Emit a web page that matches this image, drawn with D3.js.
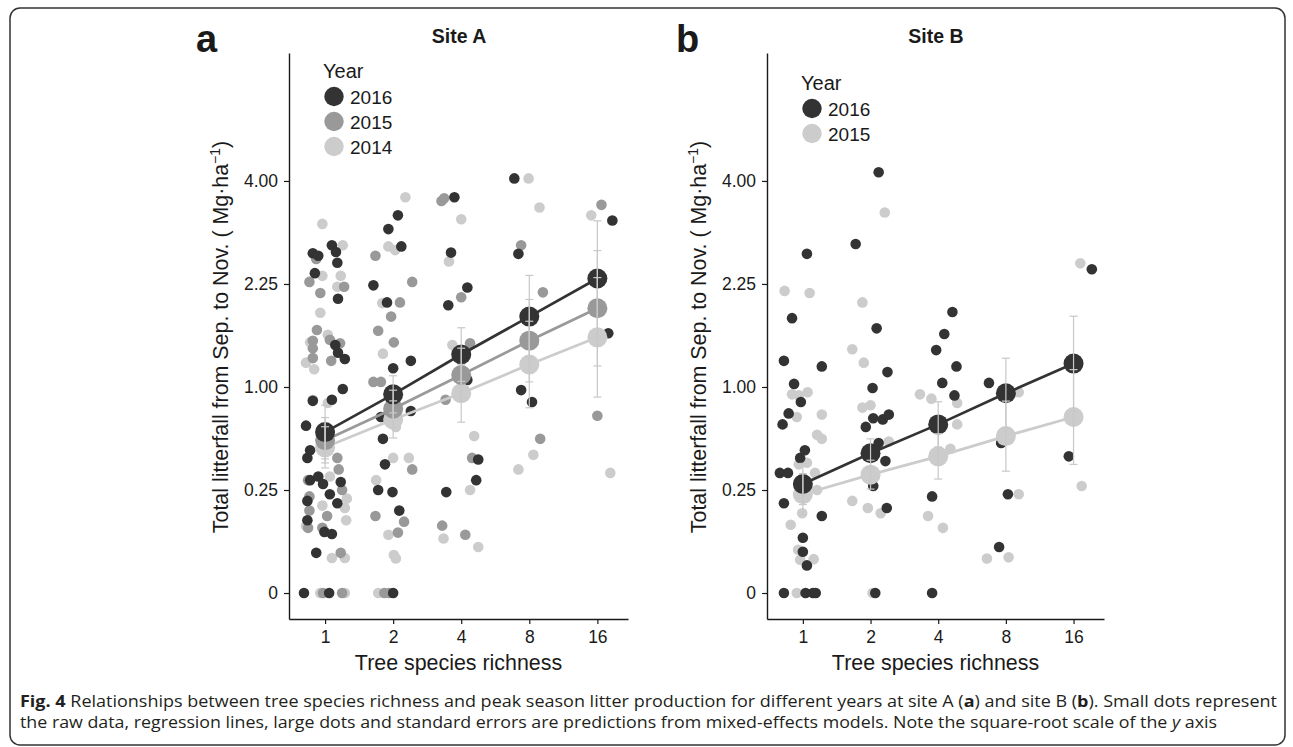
<!DOCTYPE html>
<html>
<head>
<meta charset="utf-8">
<script src="https://cdn.jsdelivr.net/npm/d3@7"></script>
<style>
body { margin: 0; background: #fff; }
svg text { font-family: "Liberation Sans", Arial, sans-serif; fill: #1a1a1a; }
</style>
</head>
<body>
<div class="chart"></div>
<script>
'use strict';
var richness = [1, 2, 4, 8, 16];
var yTicks = [0, 0.25, 1, 2.25, 4];
var yearsA = ['2016', '2015', '2014'];
var yearsB = ['2016', '2015'];

// raw plot values: [richness, jitter (log2 units), litterfall Mg/ha]
var rawA2016 = [[1,-0.18,2.72],[1,-0.10,2.68],[1,0.10,2.85],[1,0.16,2.74],[1,0.18,2.57],[1,-0.15,2.41],[1,0.19,2.04],[1,0.15,1.45],[1,0.19,1.36],[1,0.29,1.29],[1,0.26,0.98],[1,-0.18,0.87],[1,0.10,0.88],[1,-0.28,0.66],[1,-0.22,0.48],[1,-0.26,0.43],[1,-0.22,0.30],[1,-0.10,0.32],[1,-0.03,0.28],[1,0.23,0.29],[1,0.07,0.23],[1,-0.26,0.20],[1,0.18,0.19],[1,-0.26,0.125],[1,-0.01,0.088],[1,0.10,0.082],[1,-0.13,0.038],[1,-0.31,0],[1,0.06,0],
  [2,0.07,3.36],[2,-0.07,3.12],[2,0.12,2.83],[2,-0.29,2.23],[2,-0.09,1.99],[2,0,1.19],[2,0.26,1.27],[2,-0.18,0.73],[2,0.26,0.78],[2,-0.15,0.56],[2,-0.12,0.39],[2,-0.22,0.25],[2,-0.01,0.24],[2,0.09,0.16],[2,0,0],
  [4,-0.10,3.69],[4,-0.15,2.73],[4,0.09,2.20],[4,-0.19,1.95],[4,0.09,1.07],[4,0.25,0.42],[4,0.22,0.30],[4,-0.22,0.24],
  [8,-0.22,4.05],[8,-0.16,2.71],[8,-0.12,0.97],[8,0.04,0.86],
  [16,0.22,3.27],[16,0.16,1.59]];
var rawA2015 = [[1,-0.13,2.63],[1,-0.23,2.28],[1,0.28,2.21],[1,-0.07,2.12],[1,-0.12,1.63],[1,-0.18,1.50],[1,0.07,1.51],[1,0.22,1.47],[1,-0.18,1.41],[1,-0.18,1.30],[1,0.09,1.27],[1,0.18,0.43],[1,0.20,0.36],[1,-0.25,0.30],[1,-0.23,0.22],[1,0.25,0.25],[1,0.03,0.14],[1,-0.23,0.16],[1,-0.25,0.10],[1,-0.04,0.10],[1,0.23,0.038],[1,-0.03,0],[1,0.25,0],
  [2,-0.26,2.68],[2,0.28,2.28],[2,0.10,1.99],[2,-0.03,1.80],[2,-0.22,1.62],[2,0.01,1.48],[2,-0.29,1.05],[2,-0.18,1.05],[2,0.28,0.36],[2,-0.26,0.14],[2,0.16,0.12],[2,0.07,0.086],[2,-0.13,0],[2,-0.06,0],
  [4,-0.29,3.62],[4,-0.25,3.67],[4,0,2.06],[4,0.13,1.47],[4,-0.23,0.88],[4,0.16,0.43],[4,-0.28,0.107],[4,0.06,0.08],
  [8,-0.12,2.85],[8,0.20,2.13],[8,0.16,0.56],
  [16,0.06,3.55],[16,0,0.74]];
var rawA2014 = [[1,-0.04,3.21],[1,0.26,2.85],[1,-0.04,2.37],[1,0.23,2.37],[1,0.18,2.21],[1,-0.07,1.85],[1,-0.22,1.48],[1,0.04,1.57],[1,-0.28,1.25],[1,-0.16,1.18],[1,-0.18,0.88],[1,0.04,0.85],[1,0.07,0.32],[1,-0.04,0.18],[1,0.32,0.21],[1,0.29,0.17],[1,0.31,0.125],[1,-0.28,0.106],[1,0.10,0.029],[1,0.29,0.029],[1,0.29,0],[1,-0.07,0],
  [2,0.18,3.69],[2,-0.07,2.83],[2,0.03,2.77],[2,-0.16,1.98],[2,-0.15,1.35],[2,0.04,0.65],[2,0,0.43],[2,0.23,0.43],[2,-0.25,0.30],[2,-0.07,0.08],[2,0.01,0.034],[2,0.04,0.028],[2,-0.22,0],
  [4,0,3.29],[4,-0.18,2.59],[4,-0.13,1.45],[4,0.19,0.58],[4,0.13,0.25],[4,-0.26,0.07],[4,0.25,0.05],
  [8,-0.01,4.05],[8,0.15,3.50],[8,0.06,0.45],[8,-0.16,0.36],
  [16,-0.09,3.36],[16,0.19,0.34]];
var rawB2016 = [[1,0.06,2.71],[1,-0.16,1.78],[1,-0.28,1.27],[1,0.28,1.21],[1,-0.13,1.03],[1,-0.03,0.86],[1,-0.21,0.76],[1,-0.30,0.67],[1,0.03,0.48],[1,-0.04,0.43],[1,-0.34,0.34],[1,-0.22,0.34],[1,-0.28,0.19],[1,0.28,0.14],[1,0,0.072],[1,0,0.040],[1,0.06,0.018],[1,-0.28,0],[1,0.04,0],[1,0.15,0],[1,0.19,0],
  [2,0.12,4.17],[2,-0.22,2.87],[2,0.09,1.65],[2,0.25,1.15],[2,0.03,0.99],[2,0.04,0.72],[2,0.18,0.71],[2,0.27,0.75],[2,-0.07,0.65],[2,0.12,0.53],[2,0.22,0.41],[2,0.04,0.27],[2,0.24,0.17],[2,0.07,0],
  [4,0.21,1.86],[4,0.09,1.58],[4,-0.03,1.39],[4,0.27,1.21],[4,0.06,1.04],[4,0.24,0.92],[4,-0.09,0.22],[4,-0.09,0],
  [8,-0.25,1.04],[8,-0.07,0.53],[8,0.03,0.23],[8,-0.10,0.05],
  [16,0.27,2.47],[16,-0.07,0.44]];
var rawB2015 = [[1,-0.27,2.15],[1,0.10,2.12],[1,-0.16,0.93],[1,-0.06,0.92],[1,0.07,0.95],[1,-0.09,0.73],[1,0.28,0.75],[1,0.21,0.59],[1,0.28,0.56],[1,0.06,0.40],[1,0.18,0.34],[1,-0.06,0.39],[1,0.21,0.25],[1,-0.01,0.15],[1,-0.18,0.11],[1,-0.07,0.044],[1,-0.04,0.026],[1,0.16,0.027],[1,-0.09,0],
  [2,0.21,3.41],[2,-0.12,1.99],[2,-0.27,1.40],[2,-0.10,1.25],[2,-0.12,0.81],[2,0,0.83],[2,0.27,0.54],[2,-0.27,0.20],[2,-0.04,0.17],[2,0.15,0.15],[2,0.03,0],
  [4,-0.27,0.93],[4,-0.10,0.89],[4,0.28,0.85],[4,0.28,0.67],[4,0.18,0.49],[4,-0.15,0.14],[4,0.07,0.10],
  [8,0.19,0.95],[8,0.19,0.23],[8,-0.28,0.028],[8,0.04,0.030],
  [16,0.10,2.56],[16,0.12,0.27]];

// model predictions (per richness level) and standard errors on the sqrt scale
var predA2016 = [0.61, 0.93, 1.34, 1.80, 2.33];
var predA2015 = [0.55, 0.80, 1.12, 1.50, 1.91];
var predA2014 = [0.50, 0.71, 0.94, 1.23, 1.54];
var seA2016 = [0.13, 0.09, 0.13, 0.20, 0.28];
var seA2015 = [0.11, 0.09, 0.13, 0.20, 0.28];
var seA2014 = [0.10, 0.09, 0.14, 0.21, 0.29];
var predB2016 = [0.28, 0.46, 0.67, 0.94, 1.24];
var predB2015 = [0.23, 0.33, 0.44, 0.58, 0.73];
var seB2016 = [0.10, 0.07, 0.11, 0.17, 0.23];
var seB2015 = [0.10, 0.07, 0.11, 0.17, 0.23];

var W = 1293, H = 747;
var svg = d3.select('.chart').append('svg')
  .attr('width', W)
  .attr('height', H);

svg.append('rect')
  .attr('x', 10).attr('y', 8)
  .attr('width', 1275).attr('height', 737)
  .attr('rx', 10)
  .attr('fill', 'none')
  .attr('stroke', '#333')
  .attr('stroke-width', 1.5);

var fmtY = function(d) { return d === 0 ? '0' : d3.format('.2f')(d); };

function panel(p) {
  var x = d3.scaleLog().base(2)
    .domain([Math.pow(2, -0.53), Math.pow(2, 4.45)])
    .range([p.left, p.right]);
  var y = d3.scaleSqrt()
    .domain([-0.0159, 6.87])
    .range([619, 53]);
  var jx = function(d) { return x(d[0] * Math.pow(2, d[1])); };

  var g = svg.append('g');

  // raw data, lightest year first
  p.years.slice().reverse().forEach(function(yr) {
    g.append('g').selectAll('circle')
      .data(p.raw[yr])
      .enter().append('circle')
        .attr('cx', jx)
        .attr('cy', function(d) { return y(d[2]); })
        .attr('r', 5.3)
        .attr('fill', p.color[yr]);
  });

  var line = d3.line()
    .x(function(d, i) { return x(richness[i]); })
    .y(function(d) { return y(d); });

  p.years.slice().reverse().forEach(function(yr) {
    g.append('path')
      .attr('d', line(p.pred[yr]))
      .attr('fill', 'none')
      .attr('stroke', p.color[yr])
      .attr('stroke-width', 2.7);
    g.append('g').selectAll('circle')
      .data(p.pred[yr])
      .enter().append('circle')
        .attr('cx', function(d, i) { return x(richness[i]); })
        .attr('cy', function(d) { return y(d); })
        .attr('r', 10)
        .attr('fill', p.color[yr]);
  });

  // standard error bars
  p.years.forEach(function(yr) {
    var se = p.se[yr];
    var eb = g.append('g').attr('stroke', '#c8c8c8').attr('stroke-width', 1.2);
    p.pred[yr].forEach(function(m, i) {
      var cx = x(richness[i]);
      var lo = Math.pow(Math.max(0, Math.sqrt(m) - se[i]), 2);
      var hi = Math.pow(Math.sqrt(m) + se[i], 2);
      eb.append('line').attr('x1', cx).attr('x2', cx).attr('y1', y(lo)).attr('y2', y(hi));
      eb.append('line').attr('x1', cx - 4).attr('x2', cx + 4).attr('y1', y(lo)).attr('y2', y(lo));
      eb.append('line').attr('x1', cx - 4).attr('x2', cx + 4).attr('y1', y(hi)).attr('y2', y(hi));
    });
  });

  // axes
  var ya = g.append('g')
    .attr('transform', 'translate(' + p.left + ',0)')
    .call(d3.axisLeft(y).tickValues(yTicks).tickFormat(fmtY).tickSize(5).tickPadding(6).tickSizeOuter(0));
  var xa = g.append('g')
    .attr('transform', 'translate(0,619)')
    .call(d3.axisBottom(x).tickValues(richness).tickFormat(d3.format('d')).tickSize(5).tickPadding(6.7).tickSizeOuter(0));
  [ya, xa].forEach(function(a) {
    a.select('.domain').attr('stroke', '#1a1a1a').attr('stroke-width', 1.4);
    a.selectAll('.tick line').attr('stroke', '#1a1a1a').attr('stroke-width', 1.2);
    a.selectAll('text')
      .attr('font-family', '"Liberation Sans", Arial, sans-serif')
      .attr('font-size', 17.5)
      .attr('fill', '#1a1a1a');
  });

  // x title
  g.append('text')
    .attr('x', (p.left + p.right) / 2)
    .attr('y', 670)
    .attr('text-anchor', 'middle')
    .attr('font-size', 21.4)
    .text('Tree species richness');

  // y title
  var yt = g.append('text')
    .attr('transform', 'translate(' + p.ytx + ',337) rotate(-90)')
    .attr('text-anchor', 'middle')
    .attr('font-size', 21.4);
  yt.append('tspan').text('Total litterfall from Sep. to Nov. ( Mg\u00b7ha');
  yt.append('tspan').attr('dy', -8).attr('font-size', 14).text('\u22121');
  yt.append('tspan').attr('dy', 8).text(')');

  // panel title and letter
  g.append('text')
    .attr('x', p.titleX).attr('y', 43)
    .attr('text-anchor', 'middle')
    .attr('font-weight', 'bold')
    .attr('font-size', 19.5)
    .text(p.title);
  g.append('text')
    .attr('x', p.letterX).attr('y', 52)
    .attr('font-weight', 'bold')
    .attr('font-size', 38)
    .text(p.letter);

  // legend
  var lg = g.append('g').attr('transform', 'translate(' + p.legX + ',' + p.legY + ')');
  lg.append('text').attr('x', 0).attr('y', 0).attr('font-size', 20).text('Year');
  p.years.forEach(function(yr, i) {
    lg.append('circle').attr('cx', 11).attr('cy', 18.5 + i * 25).attr('r', 9.7).attr('fill', p.color[yr]);
    lg.append('text').attr('x', 27).attr('y', 25.5 + i * 25).attr('font-size', 19).text(yr);
  });
}

panel({
  left: 289, right: 628, ytx: 228, titleX: 459, title: 'Site A', letter: 'a', letterX: 196,
  legX: 323, legY: 78,
  years: yearsA,
  color: { '2016': '#333333', '2015': '#999999', '2014': '#cccccc' },
  raw: { '2016': rawA2016, '2015': rawA2015, '2014': rawA2014 },
  pred: { '2016': predA2016, '2015': predA2015, '2014': predA2014 },
  se: { '2016': seA2016, '2015': seA2015, '2014': seA2014 }
});

panel({
  left: 767, right: 1104, ytx: 706, titleX: 936, title: 'Site B', letter: 'b', letterX: 676,
  legX: 801, legY: 90,
  years: yearsB,
  color: { '2016': '#333333', '2015': '#cccccc' },
  raw: { '2016': rawB2016, '2015': rawB2015 },
  pred: { '2016': predB2016, '2015': predB2015 },
  se: { '2016': seB2016, '2015': seB2015 }
});

// caption
var cap1 = svg.append('text')
  .attr('x', 20).attr('y', 706.5)
  .attr('textLength', 1257).attr('lengthAdjust', 'spacingAndGlyphs')
  .style('font-family', '"Open Sans", sans-serif')
  .attr('font-size', 16)
  .style('fill', '#231f20');
cap1.append('tspan').attr('font-weight', 'bold').text('Fig. 4');
cap1.append('tspan').text(' Relationships between tree species richness and peak season litter production for different years at site A (');
cap1.append('tspan').attr('font-weight', 'bold').text('a');
cap1.append('tspan').text(') and site B (');
cap1.append('tspan').attr('font-weight', 'bold').text('b');
cap1.append('tspan').text('). Small dots represent');

var cap2 = svg.append('text')
  .attr('x', 20).attr('y', 728.3)
  .attr('textLength', 1197).attr('lengthAdjust', 'spacingAndGlyphs')
  .style('font-family', '"Open Sans", sans-serif')
  .attr('font-size', 16)
  .style('fill', '#231f20');
cap2.append('tspan').text('the raw data, regression lines, large dots and standard errors are predictions from mixed-effects models. Note the square-root scale of the ');
cap2.append('tspan').attr('font-style', 'italic').text('y');
cap2.append('tspan').text(' axis');
</script>
</body>
</html>
